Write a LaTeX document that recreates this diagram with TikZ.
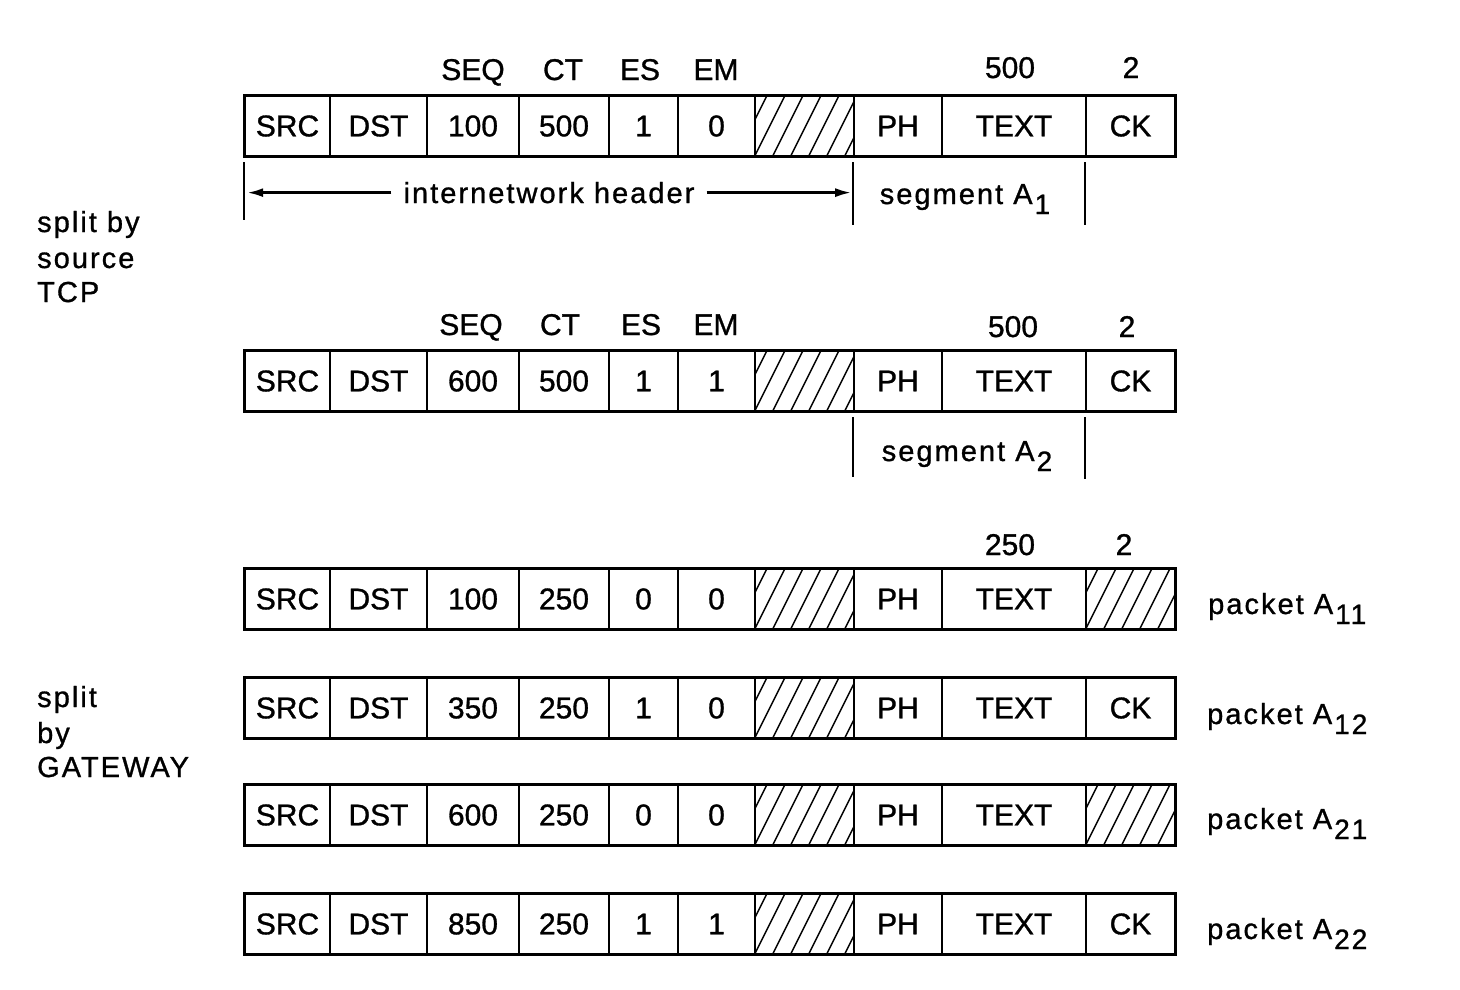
\documentclass[tikz,border=0pt]{standalone}
\usepackage{fontspec}
\setmainfont[FakeBold=1]{Liberation Sans}
\newfontfamily\spacedfont[LetterSpace=7,FakeBold=1]{Liberation Sans}
\usetikzlibrary{arrows.meta}
\newcommand\lowidx[1]{\hspace{2pt}\raisebox{-10pt}{\fontsize{28}{28}\selectfont #1}}
\def\divs{{245,330,427,519,609,678,755,854,942,1086,1175}}
\tikzset{
  cell/.style={draw, line width=1.6pt, inner sep=0pt, minimum height=59pt,
    font=\fontsize{30}{36}\selectfont},
  hcell/.style={cell, path picture={
    \foreach \k in {-3,...,8}{\draw[line width=1.5pt]
      ([xshift=\k*18pt]path picture bounding box.south west) -- ++(30pt,60pt);}}},
  frame/.style={line width=3pt},
  lbl/.style={inner sep=0pt, anchor=base, font=\fontsize{30}{36}\selectfont},
  note/.style={inner sep=0pt, anchor=base west, font=\spacedfont\fontsize{29}{36}\selectfont},
  seglbl/.style={inner sep=0pt, anchor=base, font=\spacedfont\fontsize{29}{36}\selectfont},
  tick/.style={line width=1.5pt},
  arr/.style={line width=2.5pt, -{Latex[length=16pt,width=9pt]}}
}
\newcommand\pktrow[3]{%
  \foreach \s/\t [count=\i] in {#3} {
    \pgfmathsetmacro\xl{\divs[\i-1]}
    \pgfmathsetmacro\xr{\divs[\i]}
    \pgfmathsetmacro\w{\xr-\xl}
    \pgfmathsetmacro\xc{(\xl+\xr)/2}
    \node[\s, minimum width=\w pt] (#1c\i) at (\xc,#2) {\t};
  }
  \draw[frame] (#1c1.north west) rectangle (#1c10.south east);
}
\begin{document}
\begin{tikzpicture}[x=1pt,y=-1pt]
\useasboundingbox (0,0) rectangle (1460,989);

% row 1
\pktrow{ra}{126}{cell/SRC,cell/DST,cell/100,cell/500,cell/1,cell/0,hcell/{},cell/PH,cell/TEXT,cell/CK}
\node[lbl] (seqa) at (473,80) {SEQ};
\node[lbl] (cta) at (563,80) {CT};
\node[lbl] (esa) at (640,80) {ES};
\node[lbl] (ema) at (716,80) {EM};
\node[lbl] (lena) at (1010,78) {500};
\node[lbl] (cka) at (1131,78) {2};

\draw[tick] ([yshift=-6pt]rac1.south west) -- ([yshift=-64pt]rac1.south west);
\draw[tick] ([yshift=-6pt]rac8.south west) -- ([yshift=-69pt]rac8.south west);
\draw[tick] ([yshift=-6pt]rac10.south west) -- ([yshift=-69pt]rac10.south west);
\node[seglbl] (ih) at (549,203) {internetwork header};
\draw[arr] ([xshift=-12pt]ih.west) -- ([xshift=3pt]ih.west -| rac1.west);
\draw[arr] ([xshift=12pt]ih.east) -- ([xshift=-2pt]ih.east -| rac8.west);
\node[seglbl] (sga) at (965,204) {segment A\lowidx{1}};

% row 2
\pktrow{rb}{381}{cell/SRC,cell/DST,cell/600,cell/500,cell/1,cell/1,hcell/{},cell/PH,cell/TEXT,cell/CK}
\node[lbl] (seqb) at (471,335) {SEQ};
\node[lbl] (ctb) at (560,335) {CT};
\node[lbl] (esb) at (641,335) {ES};
\node[lbl] (emb) at (716,335) {EM};
\node[lbl] (lenb) at (1013,337) {500};
\node[lbl] (ckb) at (1127,337) {2};
\draw[tick] ([yshift=-6pt]rbc8.south west) -- ([yshift=-66pt]rbc8.south west);
\draw[tick] ([yshift=-6pt]rbc10.south west) -- ([yshift=-68pt]rbc10.south west);
\node[seglbl] (sgb) at (967,461) {segment A\lowidx{2}};

% left labels
\node[note] (tcp1) at (37,232) {split by};
\node[note] (tcp2) at (37,268) {source};
\node[note] (tcp3) at (37,302) {TCP};
\node[note] (gw1) at (37,707) {split};
\node[note] (gw2) at (37,743) {by};
\node[note] (gw3) at (37,777) {GATEWAY};

% packets
\pktrow{rc}{599}{cell/SRC,cell/DST,cell/100,cell/250,cell/0,cell/0,hcell/{},cell/PH,cell/TEXT,hcell/{}}
\node[lbl] (lenc) at (1010,555) {250};
\node[lbl] (ckc) at (1124,555) {2};
\pktrow{rd}{708}{cell/SRC,cell/DST,cell/350,cell/250,cell/1,cell/0,hcell/{},cell/PH,cell/TEXT,cell/CK}
\pktrow{re}{815}{cell/SRC,cell/DST,cell/600,cell/250,cell/0,cell/0,hcell/{},cell/PH,cell/TEXT,hcell/{}}
\pktrow{rf}{924}{cell/SRC,cell/DST,cell/850,cell/250,cell/1,cell/1,hcell/{},cell/PH,cell/TEXT,cell/CK}

\node[note] (pa11) at (1208,614) {packet A\lowidx{11}};
\node[note] (pa12) at (1207,724) {packet A\lowidx{12}};
\node[note] (pa21) at (1207,829) {packet A\lowidx{21}};
\node[note] (pa22) at (1207,939) {packet A\lowidx{22}};
\end{tikzpicture}
\end{document}
